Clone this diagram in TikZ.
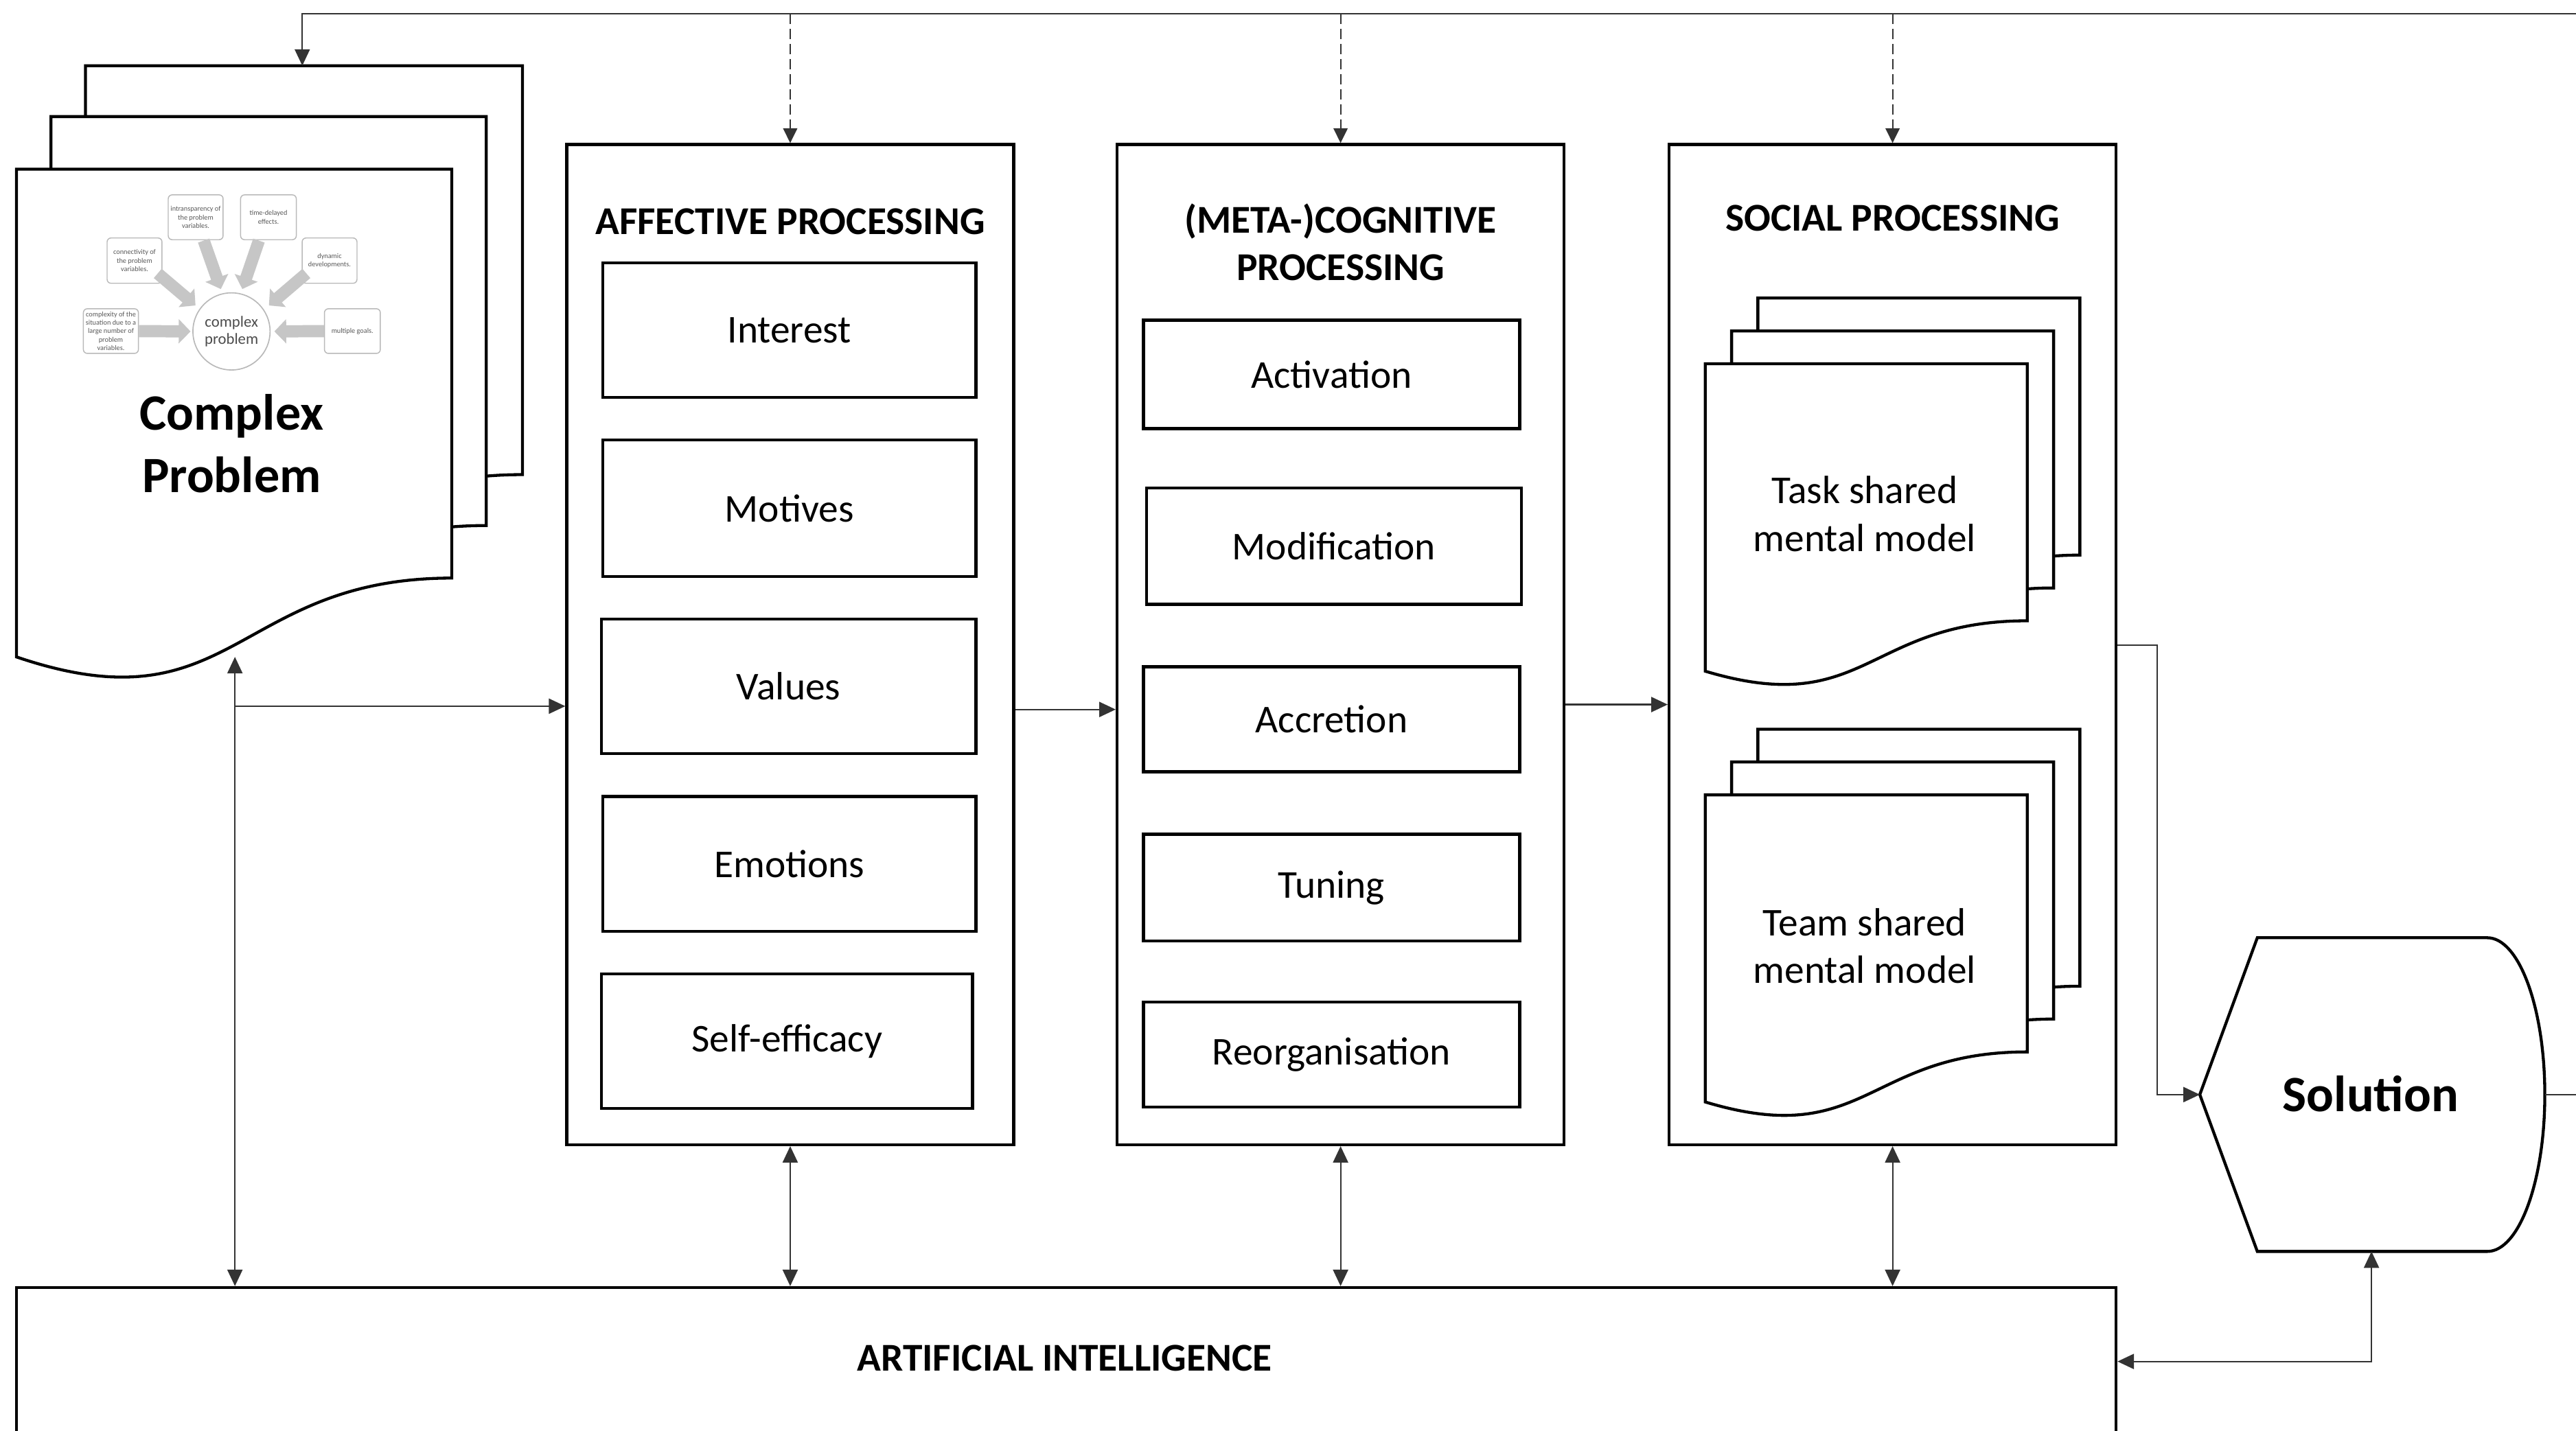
\documentclass[tikz,border=0pt]{standalone}
\usepackage{fontspec}
\setmainfont{Carlito}
\usetikzlibrary{arrows.meta}
\newcommand{\fmid}{\fontsize{12}{14.5}\selectfont}
\newcommand{\fbig}{\fontsize{15.5}{19}\selectfont\bfseries}
\newcommand{\ftiny}{\fontsize{2.15}{2.6}\selectfont}
\newcommand{\fcirc}{\fontsize{4.75}{5.3}\selectfont}
\newcommand{\docshape}[7][]{%
  \draw[docline,#1] (#2,#3) -- (#4,#3) -- (#4,#5) .. controls ({(#2+#4)/2},#5) and ({(#2+#4)/2},#7) .. (#2,#6) -- cycle;}
\begin{document}
\begin{tikzpicture}[x=0.5pt,y=-0.5pt,
  wh/.style 2 args={minimum width=#1*0.5pt, minimum height=#2*0.5pt},
  bigbox/.style={draw, line width=0.9pt, fill=white, inner sep=0pt},
  inbox/.style={draw, line width=0.9pt, fill=white, inner sep=0pt, font=\fmid},
  ttl/.style={font=\fmid\bfseries, align=center, inner sep=0pt},
  docline/.style={draw, line width=0.9pt, fill=white},
  conn/.style={line width=0.45pt, draw=black!80},
  tip/.tip={Triangle[length=5pt,width=4.6pt]},
  arr/.style={conn, -tip},
  darr/.style={conn, tip-tip},
  dsh/.style={conn, dash pattern=on 3pt off 1.6pt, -{Triangle[length=4.5pt,width=4.3pt]}},
  gbox/.style={draw=gray!55, line width=0.3pt, rounded corners=1.2pt, fill=white, text=gray!70!black, font=\ftiny, align=center, inner sep=0pt},
  garr/.style={draw=gray!45, line width=3.7pt, -{Triangle[length=3.6pt,width=7.2pt]}},
]
\useasboundingbox (0,0) rectangle (1568,871.3);

% ---------------- Complex problem document stack
\docshape{52}{40}{318}{289}{337}{382}
\docshape{31}{71}{296}{320}{368}{413}
\docshape{10}{103}{275}{352}{400}{445}
\coordinate (cptop) at (184,40);
\coordinate (cpbot) at (143,400);

% inner mini diagram
\node[draw=gray!55, line width=0.35pt, circle, minimum size=23.5pt, inner sep=0pt, text=gray!60!black, font=\fcirc, align=center] (cc) at (140.9,201.8) {complex\\problem};
\node[gbox, wh={33.5}{27.2}] (g1) at (67.5,201.6) {complexity of the\\situation due to a\\large number of\\problem\\variables.};
\node[gbox, wh={33.4}{27.6}] (g2) at (81.9,158.7) {connectivity of\\the problem\\variables.};
\node[gbox, wh={33.4}{27.3}] (g3) at (119.1,132.3) {intransparency of\\the problem\\variables.};
\node[gbox, wh={33.9}{27.3}] (g4) at (163.4,132.3) {time-delayed\\effects.};
\node[gbox, wh={33.4}{27.6}] (g5) at (200.6,158.7) {dynamic\\developments.};
\node[gbox, wh={34}{27.2}] (g6) at (214.5,201.6) {multiple goals.};
\coordinate (t1) at (116,201.8);
\coordinate (t2) at (119,186);
\coordinate (t3) at (134.4,176);
\coordinate (t4) at (147.5,176);
\coordinate (t5) at (163.7,186);
\coordinate (t6) at (167,201.8);
\draw[garr] (g1.east) -- (t1);
\draw[garr] (96,166.5) -- (t2);
\draw[garr] (124,146.5) -- (t3);
\draw[garr] (157.6,146.5) -- (t4);
\draw[garr] (186.5,166.5) -- (t5);
\draw[garr] (g6.west) -- (t6);

\node[font=\fbig, align=center, inner sep=0pt] (cptext) at (141,270) {Complex\\Problem};

% ---------------- Affective processing
\node[bigbox, wh={272}{609}] (aff) at (481,392.5) {};
\node[ttl] (afft) at (481,135) {AFFECTIVE PROCESSING};
\node[inbox, wh={227}{82}] (interest) at (480.5,201) {Interest};
\node[inbox, wh={227}{83}] (motives) at (480.5,309.5) {Motives};
\node[inbox, wh={228}{82}] (values) at (480,418) {Values};
\node[inbox, wh={227}{82}] (emotions) at (480.5,526) {Emotions};
\node[inbox, wh={226}{82}] (selfeff) at (479,634) {Self-efficacy};

% ---------------- (Meta-)cognitive processing
\node[bigbox, wh={272}{609}] (meta) at (816,392.5) {};
\node[ttl] (metat) at (816,147.5) {(META-)COGNITIVE\\PROCESSING};
\node[inbox, wh={229}{66}] (activation) at (810.5,228) {Activation};
\node[inbox, wh={228}{71}] (modification) at (812,332.5) {Modification};
\node[inbox, wh={229}{64}] (accretion) at (810.5,438) {Accretion};
\node[inbox, wh={229}{65}] (tuning) at (810.5,540.5) {Tuning};
\node[inbox, wh={229}{64}] (reorg) at (810.5,642) {Reorganisation};

% ---------------- Social processing
\node[bigbox, wh={272}{609}] (soc) at (1152,392.5) {};
\node[ttl] (soct) at (1152,133) {SOCIAL PROCESSING};
\docshape{1070}{181.5}{1266}{338}{368.7}{398}
\docshape{1054}{201.5}{1250}{358}{388.7}{418}
\docshape{1038}{221.5}{1234}{378}{408.7}{438}
\node[font=\fmid, align=center, inner sep=0pt] (task) at (1135,313) {Task shared\\mental model};
\docshape{1070}{444}{1266}{600.5}{631}{660.5}
\docshape{1054}{464}{1250}{620.5}{651}{680.5}
\docshape{1038}{484}{1234}{640.5}{671}{700.5}
\node[font=\fmid, align=center, inner sep=0pt] (team) at (1135,576) {Team shared\\mental model};

% ---------------- Solution
\draw[line width=0.9pt, fill=white] (1339,666.5) -- (1374,571) -- (1514,571)
  arc[start angle=-90, end angle=90, x radius=35, y radius=95.5] -- (1374,762) -- cycle;
\coordinate (solW) at (1339,666.5);
\coordinate (solS) at (1443.5,762);
\coordinate (solE) at (1549,666.5);
\node[font=\fbig, inner sep=0pt] (sol) at (1443,666) {Solution};

% ---------------- Artificial intelligence
\node[bigbox, wh={1278}{176}] (ai) at (649,872) {};
\node[ttl] (ait) at (648,827) {ARTIFICIAL INTELLIGENCE};

% ---------------- Connectors
\coordinate (topR) at (1568,8.5);
\coordinate (topL) at (184,8.5);
\draw[arr] (topR) -- (topL) -- (cptop);
\draw[dsh] (aff.north |- topL) -- (aff.north);
\draw[dsh] (meta.north |- topL) -- (meta.north);
\draw[dsh] (soc.north |- topL) -- (soc.north);

\draw[darr] (cpbot) -- (cpbot |- ai.north);
\coordinate (j1) at (143,430);
\draw[arr] (j1) -- (j1 -| aff.west);
\coordinate (y2) at (0,432);
\draw[arr] (aff.east |- y2) -- (meta.west |- y2);
\coordinate (y3) at (0,429);
\draw[arr] (meta.east |- y3) -- (soc.west |- y3);

\draw[darr] (aff.south) -- (aff.south |- ai.north);
\draw[darr] (meta.south) -- (meta.south |- ai.north);
\draw[darr] (soc.south) -- (soc.south |- ai.north);

\coordinate (y4) at (0,393);
\coordinate (xk) at (1313,0);
\draw[arr] (soc.east |- y4) -- (xk |- y4) -- (xk |- solW) -- (solW);
\coordinate (y5) at (0,829);
\draw[darr] (solS) -- (solS |- y5) -- (ai.east |- y5);
\coordinate (edgeR) at (1568,666.5);
\draw[conn] (solE) -- (edgeR);
\end{tikzpicture}
\end{document}
